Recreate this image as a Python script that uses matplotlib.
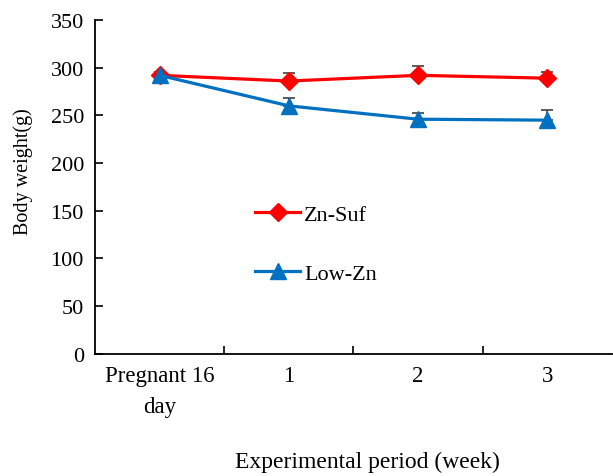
import matplotlib.pyplot as plt
import numpy as np

plt.rcParams['font.family'] = ['Liberation Serif', 'DejaVu Serif']

labels = ['Pregnant 16\nday', '1', '2', '3']
zn_suf = [292, 286, 292, 289]
zn_suf_err = [3, 8, 10, 7]
low_zn = [292, 260, 246, 245]
low_zn_err = [3, 8, 7, 11]

fig = plt.figure(figsize=(6.13, 4.77), dpi=100)
ax = fig.add_axes([0.155, 0.256, 0.843, 0.700])
x = np.arange(len(labels))

ax.errorbar(x, zn_suf, yerr=[np.zeros(len(x)), zn_suf_err], fmt='none', ecolor='#404040',
            elinewidth=1.2, capsize=4, capthick=1.2, zorder=2)
ax.errorbar(x, low_zn, yerr=[np.zeros(len(x)), low_zn_err], fmt='none', ecolor='#404040',
            elinewidth=1.2, capsize=4, capthick=1.2, zorder=2)
ax.plot(x, zn_suf, color='#FF0000', lw=2.3, marker='D', ms=9, label='Zn-Suf', zorder=3)
ax.plot(x, low_zn, color='#0070C0', lw=2.3, marker='^', ms=12, label='Low-Zn', zorder=4)

ax.set_xlim(-0.5, 3.5)
ax.set_ylim(0, 350)
ax.set_yticks(np.arange(0, 351, 50))
ax.set_xticks([0.5, 1.5, 2.5])
ax.set_xticklabels([])
ax.set_xticks(x, minor=True)
ax.set_xticklabels(labels, minor=True, linespacing=1.6)
ax.tick_params(axis='x', which='major', direction='in', length=6, width=1.2)
ax.tick_params(axis='x', which='minor', length=0, pad=8, labelsize=16.5)
ax.tick_params(axis='y', direction='in', length=6, width=1.2, labelsize=16, pad=8)
for s in ['top', 'right']:
    ax.spines[s].set_visible(False)
for s in ['left', 'bottom']:
    ax.spines[s].set_linewidth(1.3)

ax.set_ylabel('Body weight(g)', fontsize=14.5)
ax.yaxis.set_label_coords(-0.12, 0.548)
ax.set_xlabel('Experimental period (week)', fontsize=17)
ax.xaxis.set_label_coords(0.528, -0.29)
leg = ax.legend(loc='upper left', bbox_to_anchor=(0.293, 0.475), frameon=False, fontsize=16,
                handlelength=2.0, labelspacing=1.75, handletextpad=0.2, borderaxespad=0)

fig.savefig('out.png', dpi=100)
